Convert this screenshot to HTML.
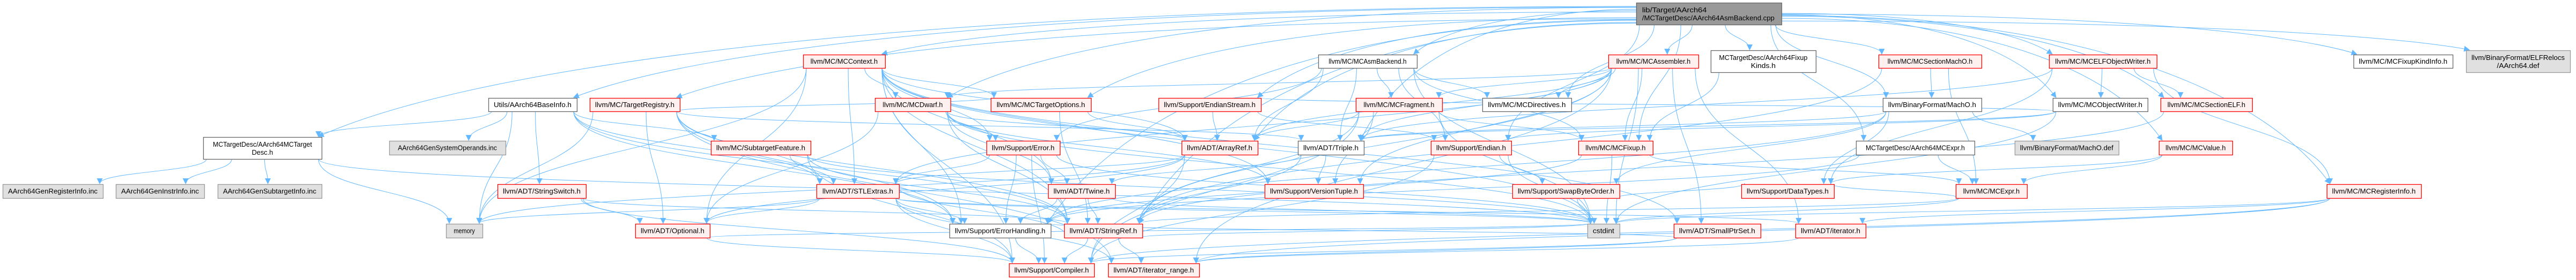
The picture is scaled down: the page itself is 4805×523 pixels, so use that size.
<!DOCTYPE html>
<html><head><meta charset="utf-8">
<style>
html,body{margin:0;padding:0;background:#fff;}
svg{display:block;}
text{font-family:"Liberation Sans",Arial,sans-serif;font-size:13px;fill:#000;}
</style></head>
<body>
<svg id="g" xmlns="http://www.w3.org/2000/svg" width="4805" height="523" viewBox="0 0 4805 523">
<defs>
<marker id="ah" viewBox="0 0 10 10" refX="9" refY="5" markerWidth="11" markerHeight="11" markerUnits="userSpaceOnUse" orient="auto">
<path d="M0,0 L10,5 L0,10 z" fill="#63b8ff"/>
</marker>
</defs>
<g id="edges" fill="none" stroke="#63b8ff" stroke-width="1"></g>
<g id="nodes"></g>
</svg>
<script>
var N={
main:[3052,5,3323,46,'m',['lib/Target/AArch64','/MCTargetDesc/AArch64AsmBackend.cpp']],
mctd:[379,256,600,297,'w',['MCTargetDesc/AArch64MCTarget','Desc.h']],
greg:[5,344,192,370,'g',['AArch64GenRegisterInfo.inc']],
ginst:[216,344,381,370,'g',['AArch64GenInstrInfo.inc']],
gsub:[406,344,600,370,'g',['AArch64GenSubtargetInfo.inc']],
gsys:[726,263,943,289,'g',['AArch64GenSystemOperands.inc']],
base:[911,183,1076,208,'w',['Utils/AArch64BaseInfo.h']],
treg:[1100,183,1268,208,'r',['llvm/MC/TargetRegistry.h']],
ctx:[1498,102,1651,127,'r',['llvm/MC/MCContext.h']],
subf:[1326,263,1512,289,'r',['llvm/MC/SubtargetFeature.h']],
ssw:[928,344,1093,370,'r',['llvm/ADT/StringSwitch.h']],
mem:[832,418,900,444,'g',['memory']],
opt:[1185,418,1324,444,'r',['llvm/ADT/Optional.h']],
stl:[1523,344,1677,370,'r',['llvm/ADT/STLExtras.h']],
dwarf:[1632,183,1773,208,'r',['llvm/MC/MCDwarf.h']],
topt:[1848,183,2035,208,'r',['llvm/MC/MCTargetOptions.h']],
estr:[2161,183,2352,208,'r',['llvm/Support/EndianStream.h']],
err:[1840,263,1977,289,'r',['llvm/Support/Error.h']],
aref:[2204,263,2346,289,'r',['llvm/ADT/ArrayRef.h']],
twine:[1955,344,2080,370,'r',['llvm/ADT/Twine.h']],
eh:[1771,418,1960,444,'w',['llvm/Support/ErrorHandling.h']],
sref:[1985,418,2131,444,'r',['llvm/ADT/StringRef.h']],
comp:[1882,492,2041,517,'r',['llvm/Support/Compiler.h']],
itr:[2067,492,2237,517,'r',['llvm/ADT/iterator_range.h']],
vt:[2359,344,2543,370,'r',['llvm/Support/VersionTuple.h']],
asmb:[2459,102,2643,127,'w',['llvm/MC/MCAsmBackend.h']],
asm:[3000,102,3168,127,'r',['llvm/MC/MCAssembler.h']],
fk:[3191,94,3387,135,'w',['MCTargetDesc/AArch64Fixup','Kinds.h']],
frag:[2529,183,2690,208,'r',['llvm/MC/MCFragment.h']],
dir:[2765,183,2931,208,'w',['llvm/MC/MCDirectives.h']],
trip:[2421,263,2544,289,'w',['llvm/ADT/Triple.h']],
end:[2669,263,2819,289,'r',['llvm/Support/Endian.h']],
fix:[2944,263,3083,289,'r',['llvm/MC/MCFixup.h']],
swap:[2821,344,3021,370,'r',['llvm/Support/SwapByteOrder.h']],
cst:[2961,418,3021,444,'g',['cstdint']],
sps:[3122,418,3284,444,'r',['llvm/ADT/SmallPtrSet.h']],
smo:[3504,102,3696,127,'r',['llvm/MC/MCSectionMachO.h']],
elfw:[3822,102,4023,127,'r',['llvm/MC/MCELFObjectWriter.h']],
macho:[3512,183,3696,208,'w',['llvm/BinaryFormat/MachO.h']],
ow:[3829,183,4006,208,'w',['llvm/MC/MCObjectWriter.h']],
mcexpr:[3462,263,3683,289,'w',['MCTargetDesc/AArch64MCExpr.h']],
mdef:[3758,263,3952,289,'g',['llvm/BinaryFormat/MachO.def']],
dt:[3248,344,3421,370,'r',['llvm/Support/DataTypes.h']],
expr:[3648,344,3781,370,'r',['llvm/MC/MCExpr.h']],
iter:[3349,418,3480,444,'r',['llvm/ADT/iterator.h']],
selF:[4030,183,4201,208,'r',['llvm/MC/MCSectionELF.h']],
val:[4027,263,4164,289,'r',['llvm/MC/MCValue.h']],
rinfo:[4340,344,4516,370,'r',['llvm/MC/MCRegisterInfo.h']],
fki:[4390,102,4575,127,'w',['llvm/MC/MCFixupKindInfo.h']],
rel:[4600,94,4794,135,'g',['llvm/BinaryFormat/ELFRelocs','/AArch64.def']]
};
var E=[
['main',['mctd','base','fk','mcexpr','trip','macho','asmb','asm','ctx','dir','elfw','fki','ow','rinfo','selF','smo','topt','val','treg','estr','eh','rel','fix','aref','sref','end','dwarf']],
['mctd',['greg','ginst','gsub','mem','cst']],
['base',['gsys','ssw','subf','stl','mctd','eh','sref','mem']],
['treg',['mem','opt','stl','sref','trip','eh','itr','topt']],
['subf',['stl','sref','comp','cst']],
['ssw',['opt','sref','comp']],
['stl',['opt','mem','iter','itr','comp','eh','cst']],
['opt',['comp','cst']],
['ctx',['dwarf','topt','opt','aref','sref','twine','err','mem','cst','comp','stl','vt','eh','sps']],
['dwarf',['err','sref','aref','cst','opt','vt','twine']],
['topt',['aref','sref']],
['estr',['aref','end']],
['err',['twine','eh','comp','stl','cst']],
['aref',['stl','comp','opt','mem']],
['twine',['sref','eh','cst']],
['eh',['comp']],
['sref',['comp','itr','stl','cst']],
['asmb',['frag','dir','fix','trip','end','aref','err','cst']],
['asm',['frag','dir','fix','cst','aref','sref','iter','itr','sps','stl','dwarf','trip','vt']],
['frag',['fix','aref','sref','comp','cst','vt']],
['trip',['vt','twine','sref']],
['end',['swap','cst','comp']],
['fix',['expr','eh','cst']],
['swap',['cst','dt']],
['sps','comp itr eh'.split(' ')],
['smo',['macho','expr','sref']],
['elfw',['ow','selF','trip','dt','rinfo']],
['macho',['mdef','dt','swap','eh','trip']],
['ow',['trip','end','estr','cst']],
['mcexpr',['expr','eh']],
['expr',['dt','sref','cst']],
['iter',['itr']],
['val',['expr','dt']],
['rinfo',['itr','comp','cst','iter']],
['selF',['sref','selF_x']],
['fk',['fix']]
];
var eg=document.getElementById('edges'),ng=document.getElementById('nodes'),NS='http://www.w3.org/2000/svg';
function cl(v,a,b){return Math.max(a,Math.min(b,v));}
E.forEach(function(e){var s=N[e[0]];e[1].forEach(function(t,i){var T=N[t];if(!T)return;
 var scx=(s[0]+s[2])/2,tcx=(T[0]+T[2])/2,sx,sy,ex,ey,c1x,c1y,c2x,c2y;
 ey=T[1];ex=cl(tcx+(scx-tcx)*0.25,T[0]+6,T[2]-6);
 if(e[0]=='main'&&Math.abs(tcx-scx)>500){
   var left=tcx<scx;sx=left?s[0]:s[2];sy=12+(i*1.3)%32;
   var dx=ex-sx;c1x=sx+dx*0.55;c1y=sy;c2x=ex-dx*0.12;c2y=ey-(ey-sy)*0.55;
 } else {
   sx=cl(scx+(tcx-scx)*0.3,s[0]+6,s[2]-6);sy=s[3];
   if(T[1]<=s[3]){ey=T[1];}
   var dy=ey-sy;c1x=sx;c1y=sy+dy*0.5;c2x=ex;c2y=ey-dy*0.5;
 }
 var p=document.createElementNS(NS,'path');
 p.setAttribute('d','M'+sx+','+sy+' C'+c1x+','+c1y+' '+c2x+','+c2y+' '+ex+','+(ey-1));
 p.setAttribute('marker-end','url(#ah)');eg.appendChild(p);});});
var st={m:['#999999','#666666'],w:['#ffffff','#666666'],g:['#e0e0e0','#999999'],r:['#fff0f0','#ff0000']};
for(var k in N){var n=N[k],c=st[n[4]];
 var r=document.createElementNS(NS,'rect');r.setAttribute('x',n[0]+0.5);r.setAttribute('y',n[1]+0.5);
 r.setAttribute('width',n[2]-n[0]);r.setAttribute('height',n[3]-n[1]);r.setAttribute('fill',c[0]);r.setAttribute('stroke',c[1]);r.setAttribute('stroke-width','1.3');ng.appendChild(r);
 var L=n[5],w=n[2]-n[0],h=n[3]-n[1];
 L.forEach(function(t,i){var tx=document.createElementNS(NS,'text');
  var y=L.length==1?n[1]+h/2+4.5:n[1]+h/2-7+i*15+4.5;
  if(n[4]=='m'){tx.setAttribute('x',n[0]+11);}else{tx.setAttribute('x',(n[0]+n[2])/2);tx.setAttribute('text-anchor','middle');}
  tx.setAttribute('y',y);
  var tl=Math.min(w-20,t.length*6.6);
  if(n[4]=='m'){tl=i==0?t.length*6.7:w-24;}
  tx.setAttribute('textLength',tl);tx.setAttribute('lengthAdjust','spacingAndGlyphs');
  tx.textContent=t;ng.appendChild(tx);});}
</script>
</body></html>
